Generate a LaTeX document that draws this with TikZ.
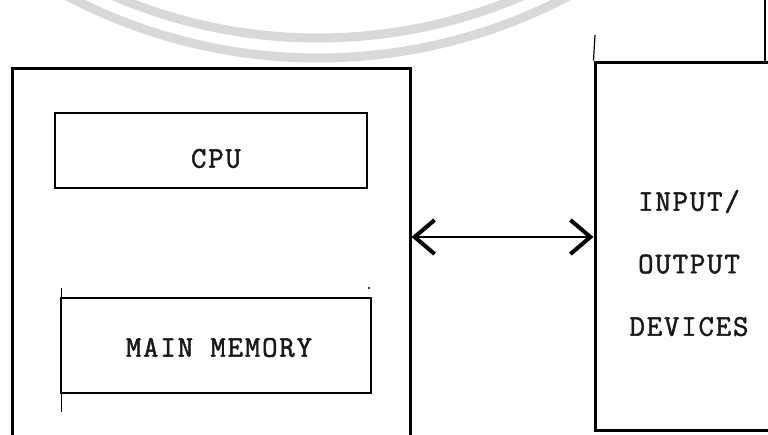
\documentclass[tikz,border=0pt]{standalone}
\usepackage{fontspec}
\setmonofont{Latin Modern Mono}[FakeBold=1.6,LetterSpace=6]
\usetikzlibrary{arrows.meta}
\begin{document}
\begin{tikzpicture}[x=1pt,y=-1pt,
  box/.style={draw=black,line width=3pt,inner sep=0pt},
  innerbox/.style={draw=black,line width=2.6pt,inner sep=0pt},
  lbl/.style={font=\ttfamily\fontsize{30}{62.5}\selectfont,text=black!90,align=center},
  wm/.style={draw=black!15,line width=9pt}]
\clip (0,0) rectangle (768,434);
\fill[white] (0,0) rectangle (768,434);
% watermark arcs
\draw[wm] (318,-480) ++(55:538) arc[start angle=55,end angle=125,radius=538];
\draw[wm] (318,-480) ++(55:518) arc[start angle=55,end angle=125,radius=518];
% main boxes
\node[box,minimum width=398pt,minimum height=400pt] (sys) at (211,268) {};
\node[box,minimum width=210pt,minimum height=368pt] (io) at (700,246) {};
\node[innerbox,minimum width=312pt,minimum height=75pt] (cpu) at (211,150.5) {};
\node[innerbox,minimum width=310pt,minimum height=95pt] (mem) at (216,345.5) {};
% labels
\node[lbl] (cputxt) at (cpu.center) [xshift=5pt,yshift=-8pt] {CPU};
\node[lbl] (memtxt) at (mem.center) [xshift=3pt,yshift=-2pt] {MAIN MEMORY};
\node[lbl] (iotxt) at (689,263) {INPUT/\\OUTPUT\\DEVICES};
% stray marks
\coordinate (ioup) at (595,35);
\draw[line width=1.2pt] (io.north west) -- (ioup);
\coordinate (trA) at (765,0);
\coordinate (trB) at (765,62);
\draw[line width=1.2pt] (trA) -- (trB);
\coordinate (mtA) at (61,288);
\coordinate (mtB) at (61,412);
\draw[line width=1pt] (mtA) -- (mtB);
\coordinate (mdot) at (369,288);
\fill (mdot) circle[radius=1.2pt];
% connector
\coordinate (ay) at (0,237);
\draw[line width=2pt,{Straight Barb[length=20pt,width=34pt,line width=4pt]}-{Straight Barb[length=20pt,width=34pt,line width=4pt]}]
  (sys.east |- ay) -- (io.west |- ay);
\end{tikzpicture}
\end{document}
